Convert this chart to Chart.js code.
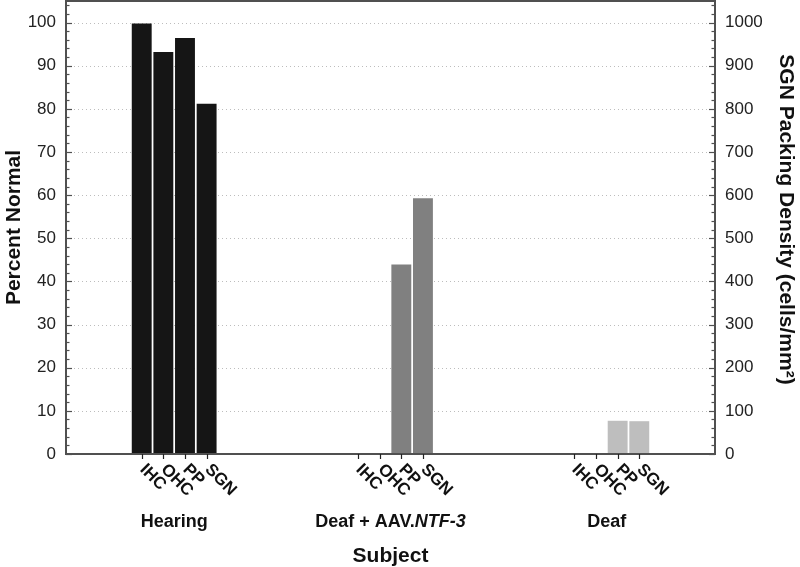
<!DOCTYPE html>
<html>
<head>
<meta charset="utf-8">
<script src="https://cdn.jsdelivr.net/npm/chart.js@4/dist/chart.umd.min.js"></script>
<style>
  html, body { margin: 0; padding: 0; background: #fff; }
  #wrap { width: 800px; height: 567px; }
</style>
</head>
<body>
<div id="wrap"><canvas id="cochleaBars" width="800" height="567"></canvas></div>
<script>
// --- data ---
const groups = ['Hearing', 'Deaf + AAV.NTF-3', 'Deaf'];
const measures = ['IHC', 'OHC', 'PP', 'SGN'];
const ihcValues = [99.8, 0, 0];
const ohcValues = [93.2, 0, 0];
const ppValues = [96.4, 43.9, 7.7];
const sgnValues = [81.2, 59.3, 7.6];
const groupColors = ['#151515', '#808080', '#bebebe'];

const leftMax = 105;   // percent axis
const rightMax = 1050; // packing density axis, same pixels x10

const FONT = '"Liberation Sans", Arial, sans-serif';
const AXIS_COLOR = '#505050';

const seriesValues = [ihcValues, ohcValues, ppValues, sgnValues];

// gridlines, frame, inward minor ticks, sub labels and titles
const framePlugin = {
    id: 'frame',
    beforeDatasetsDraw(chart) {
        const { ctx, chartArea: a, scales } = chart;
        const y = scales.y;
        ctx.save();
        ctx.strokeStyle = '#bdbdbd';
        ctx.lineWidth = 1;
        ctx.setLineDash([1, 3]);
        y.ticks.forEach(t => {
            if (t.value <= 0 || t.value % 10 !== 0) return;
            const py = Math.round(y.getPixelForValue(t.value)) + 0.5;
            ctx.beginPath();
            ctx.moveTo(a.left, py);
            ctx.lineTo(a.right, py);
            ctx.stroke();
        });
        ctx.restore();
    },
    afterDraw(chart) {
        const { ctx, chartArea: a, scales } = chart;
        const y = scales.y, y2 = scales.y2, x = scales.x;
        ctx.save();

        // frame
        ctx.strokeStyle = AXIS_COLOR;
        ctx.lineWidth = 2;
        ctx.strokeRect(a.left, a.top, a.right - a.left, a.bottom - a.top);

        // inward ticks, major every 10, minor every 2
        ctx.lineWidth = 1.2;
        for (let v = 0; v <= leftMax; v += 2) {
            const py = Math.round(y.getPixelForValue(v)) + 0.5;
            const len = v % 10 === 0 ? 6 : 3.5;
            ctx.beginPath();
            ctx.moveTo(a.left, py);
            ctx.lineTo(a.left + len, py);
            ctx.stroke();
        }
        for (let v = 0; v <= rightMax; v += 20) {
            const py = Math.round(y2.getPixelForValue(v)) + 0.5;
            const len = v % 100 === 0 ? 6 : 3.5;
            ctx.beginPath();
            ctx.moveTo(a.right, py);
            ctx.lineTo(a.right - len, py);
            ctx.stroke();
        }

        // sub ticks and rotated labels under each bar
        ctx.fillStyle = '#111';
        ctx.font = 'bold 17px ' + FONT;
        ctx.textAlign = 'left';
        ctx.textBaseline = 'middle';
        measures.forEach((m, i) => {
            chart.getDatasetMeta(i).data.forEach(bar => {
                const bx = Math.round(bar.x) + 0.5;
                ctx.strokeStyle = '#222';
                ctx.lineWidth = 1.2;
                ctx.beginPath();
                ctx.moveTo(bx, a.bottom);
                ctx.lineTo(bx, a.bottom + 5);
                ctx.stroke();
                ctx.save();
                ctx.translate(bx, a.bottom + 13);
                ctx.rotate(Math.PI / 4);
                ctx.fillText(m, 0, 0);
                ctx.restore();
            });
        });

        // group labels
        ctx.textBaseline = 'middle';
        ctx.textAlign = 'left';
        const gy = 522;
        groups.forEach((g, i) => {
            const cx = x.getPixelForValue(i);
            if (g.indexOf('.') > 0) {
                const head = g.slice(0, g.indexOf('.') + 1);
                const tail = g.slice(g.indexOf('.') + 1);
                ctx.font = 'bold 18px ' + FONT;
                const w1 = ctx.measureText(head).width;
                ctx.font = 'italic bold 18px ' + FONT;
                const w2 = ctx.measureText(tail).width;
                const start = cx - (w1 + w2) / 2;
                ctx.font = 'bold 18px ' + FONT;
                ctx.fillText(head, start, gy);
                ctx.font = 'italic bold 18px ' + FONT;
                ctx.fillText(tail, start + w1, gy);
            } else {
                ctx.font = 'bold 18px ' + FONT;
                ctx.fillText(g, cx - ctx.measureText(g).width / 2, gy);
            }
        });

        // axis titles
        ctx.textAlign = 'center';
        ctx.font = 'bold 21px ' + FONT;
        ctx.fillText('Subject', (a.left + a.right) / 2, 556);

        const midY = (a.top + a.bottom) / 2;
        ctx.save();
        ctx.translate(14, midY);
        ctx.rotate(-Math.PI / 2);
        ctx.fillText('Percent Normal', 0, 0);
        ctx.restore();

        ctx.save();
        ctx.translate(786, midY - 8);
        ctx.rotate(Math.PI / 2);
        ctx.fillText('SGN Packing Density (cells/mm\u00B2)', 0, 0);
        ctx.restore();

        ctx.restore();
    }
};

const ctx = document.getElementById('cochleaBars').getContext('2d');

new Chart(ctx, {
    type: 'bar',
    data: {
        labels: groups,
        datasets: measures.map((m, i) => ({
            label: m,
            data: seriesValues[i],
            backgroundColor: groupColors,
            borderWidth: 0,
            categoryPercentage: 0.4,
            barPercentage: 0.92
        }))
    },
    options: {
        responsive: false,
        animation: false,
        devicePixelRatio: 1,
        layout: { padding: { top: 1, left: 0, right: 0, bottom: 0 } },
        plugins: {
            legend: { display: false },
            tooltip: { enabled: false }
        },
        scales: {
            x: {
                type: 'category',
                grid: { display: false, drawTicks: false },
                border: { display: false },
                ticks: { display: false },
                afterFit: s => { s.height = 113; s.paddingLeft = 0; s.paddingRight = 0; }
            },
            y: {
                position: 'left',
                min: 0,
                max: leftMax,
                grid: { display: false, drawTicks: false },
                border: { display: false },
                ticks: {
                    stepSize: 10,
                    padding: 10,
                    color: '#222',
                    font: { family: FONT, size: 17 },
                    callback: v => (v % 10 === 0 ? v : '')
                },
                afterFit: s => { s.width = 66; s.paddingTop = 0; s.paddingBottom = 0; }
            },
            y2: {
                position: 'right',
                min: 0,
                max: rightMax,
                grid: { display: false, drawTicks: false },
                border: { display: false },
                ticks: {
                    stepSize: 100,
                    padding: 10,
                    color: '#222',
                    font: { family: FONT, size: 17 },
                    callback: v => (v % 100 === 0 ? v : '')
                },
                afterFit: s => { s.width = 85; s.paddingTop = 0; s.paddingBottom = 0; }
            }
        }
    },
    plugins: [framePlugin]
});
</script>
</body>
</html>
